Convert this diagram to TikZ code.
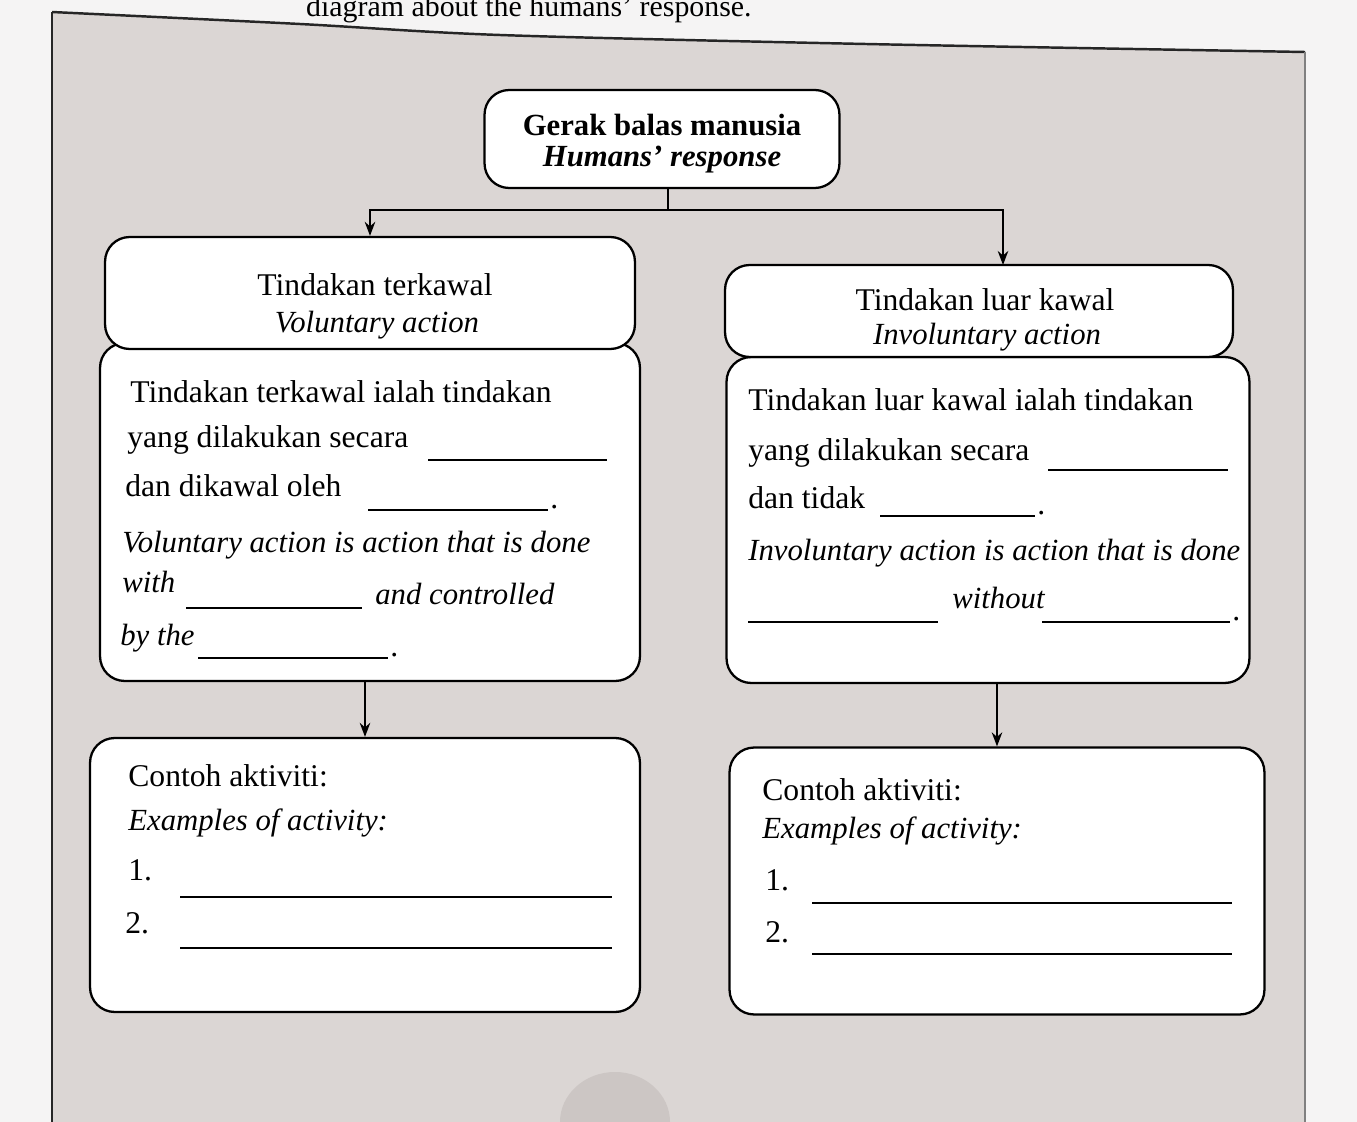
\documentclass[tikz,border=0pt]{standalone}
\usepackage{fontspec}
\setmainfont{Liberation Serif}
\usetikzlibrary{arrows.meta}
\definecolor{outside}{HTML}{F5F4F4}
\definecolor{panel}{HTML}{DBD6D4}
\definecolor{shadow}{HTML}{CCC6C4}
\tikzset{
  box/.style={draw=black, line width=1.3pt, fill=white, rounded corners=14pt, inner sep=0pt},
  txt/.style={anchor=base west, inner sep=0pt, font=\fontsize{18}{21}\selectfont},
  itxt/.style={anchor=base west, inner sep=0pt, font=\fontsize{17.5}{21}\selectfont\itshape},
  ctxt/.style={anchor=base, inner sep=0pt, font=\fontsize{18}{21}\selectfont},
  citxt/.style={anchor=base, inner sep=0pt, font=\fontsize{17.5}{21}\selectfont\itshape},
  blank/.style={line width=0.7pt},
  conn/.style={line width=0.9pt},
  arr/.style={conn, -{Stealth[length=8pt,width=6pt]}}
}
\begin{document}
\begin{tikzpicture}[x=0.02cm, y=-0.02cm]
\useasboundingbox (0,0) rectangle (1357,1122);
\clip (0,0) rectangle (1357,1122);
\fill[outside] (0,0) rectangle (1357,1122);
% panel
\fill[panel] plot[smooth] coordinates {(52,12) (300,24) (500,35) (866,44) (1305,52)} -- (1305,1122) -- (52,1122) -- cycle;
\draw[line width=1.4pt, black!85] (52,1122) -- (52,12);
\draw[line width=1.4pt, black!85] plot[smooth] coordinates {(52,12) (300,24) (500,35) (866,44) (1305,52)};
\draw[line width=0.8pt, black!50] (1305,52) -- (1305,1122);
\fill[shadow] (615,1122) ellipse[x radius=55, y radius=50];
\node[anchor=base east, inner sep=0pt, font=\fontsize{17}{20}\selectfont] (cap) at (752,17) {diagram about the humans' response.};

% boxes
\node[box, minimum width=7.1cm, minimum height=1.96cm] (top) at (662,139) {};
\node[box, minimum width=10.8cm, minimum height=6.76cm] (lb) at (370,512) {};
\node[box, minimum width=10.6cm, minimum height=2.24cm] (lh) at (370,293) {};
\node[box, minimum width=10.46cm, minimum height=6.52cm] (rb) at (988,520) {};
\node[box, minimum width=10.16cm, minimum height=1.84cm] (rh) at (979,311) {};
\node[box, minimum width=11.0cm, minimum height=5.48cm] (la) at (365,875) {};
\node[box, minimum width=10.7cm, minimum height=5.34cm] (ra) at (997,881) {};

% top text
\node[ctxt, font=\fontsize{17.5}{21}\selectfont\bfseries] (t1) at (662,136) {Gerak balas manusia};
\node[ctxt, font=\fontsize{17.5}{21}\selectfont\bfseries\itshape] (t2) at (662,167) {Humans' response};

% headers
\node[ctxt] (lh1) at (375,296) {Tindakan terkawal};
\node[citxt] (lh2) at (377,332) {Voluntary action};
\node[ctxt] (rh1) at (985,310) {Tindakan luar kawal};
\node[citxt] (rh2) at (987,344) {Involuntary action};

% left body
\node[txt] (l1) at (130,402) {Tindakan terkawal ialah tindakan};
\node[txt] (l2) at (127,447) {yang dilakukan secara};
\draw[blank] (428,460) -- (607,460);
\node[txt] (l3) at (125,496) {dan dikawal oleh};
\draw[blank] (368,510) -- (548,510);
\node[txt] (l3d) at (550,508) {.};
\node[itxt] (l4) at (122,552) {Voluntary action is action that is done};
\node[itxt] (l5) at (122,592) {with};
\draw[blank] (186,608) -- (362,608);
\node[itxt] (l5b) at (375,604) {and controlled};
\node[itxt] (l6) at (120,645) {by the};
\draw[blank] (198,658) -- (388,658);
\node[txt] (l6d) at (390,656) {.};

% right body
\node[txt] (r1) at (748,410) {Tindakan luar kawal ialah tindakan};
\node[txt] (r2) at (748,460) {yang dilakukan secara};
\draw[blank] (1048,470) -- (1228,470);
\node[txt] (r3) at (748,508) {dan tidak};
\draw[blank] (880,516) -- (1035,516);
\node[txt] (r3d) at (1037,514) {.};
\node[itxt] (r4) at (748,560) {Involuntary action is action that is done};
\draw[blank] (748,622) -- (938,622);
\node[itxt] (r5) at (952,608) {without};
\draw[blank] (1042,622) -- (1230,622);
\node[txt] (r5d) at (1232,620) {.};

% left activity
\node[txt] (la1) at (128,786) {Contoh aktiviti:};
\node[itxt] (la2) at (128,830) {Examples of activity:};
\node[txt] (la3) at (128,880) {1.};
\draw[blank] (180,897) -- (612,897);
\node[txt] (la4) at (125,933) {2.};
\draw[blank] (180,948) -- (612,948);

% right activity
\node[txt] (ra1) at (762,800) {Contoh aktiviti:};
\node[itxt] (ra2) at (762,838) {Examples of activity:};
\node[txt] (ra3) at (765,890) {1.};
\draw[blank] (812,903) -- (1232,903);
\node[txt] (ra4) at (765,942) {2.};
\draw[blank] (812,954) -- (1232,954);

% connectors
\coordinate (j) at (668,210);
\coordinate (rt) at (1003,265);
\draw[conn] (top.south -| j) -- (j);
\draw[arr] (j) -| (lh.north);
\draw[arr] (j) -| (rt);
\draw[arr] (lb.south -| la.north) -- (la.north);
\draw[arr] (rb.south -| ra.north) -- (ra.north);
\end{tikzpicture}
\end{document}
